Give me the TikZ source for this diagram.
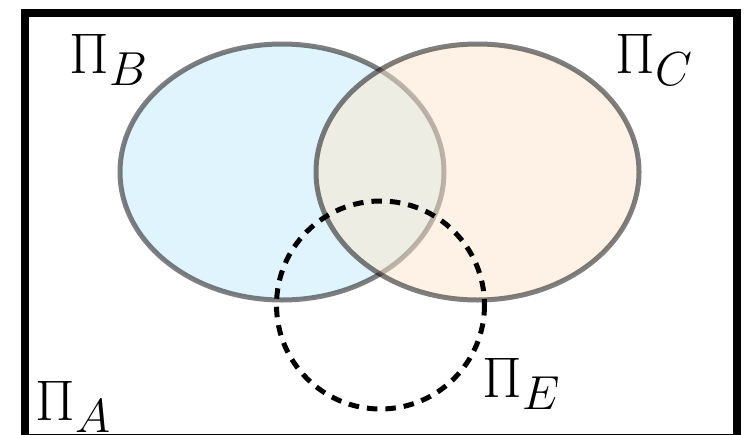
\documentclass[tikz,border=0pt]{standalone}
\usepackage{tikz}
\definecolor{setblue}{RGB}{195,235,253}
\definecolor{setorange}{RGB}{253,231,205}
\tikzset{
  setshape/.style={line width=5pt, draw=black, opacity=0.5},
  lbl/.style={anchor=base west, inner sep=0pt, font=\Huge, scale=2.3},
  circdash/.style={line width=5pt, dash pattern=on 10.5pt off 8pt}
}
\begin{document}
\begin{tikzpicture}[x=1pt,y=-1pt]
\useasboundingbox (0,0) rectangle (746,434);
\clip (0,0) rectangle (746,434);
\fill[white] (0,0) rectangle (746,434);
\draw[setshape, fill=setblue] (282,172) ellipse [x radius=162, y radius=128];
\draw[setshape, fill=setorange] (477.5,172) ellipse [x radius=161.5, y radius=128];
\draw[circdash] (380.5,305) circle [radius=104];
\draw[line width=8pt] (25,13) rectangle (737,438);
\node[lbl] (pb) at (69,73) {$\Pi_B$};
\node[lbl] (pc) at (615,73) {$\Pi_C$};
\node[lbl] (pa) at (35,420) {$\Pi_A$};
\node[lbl] (pe) at (482,397) {$\Pi_E$};
\end{tikzpicture}
\end{document}
